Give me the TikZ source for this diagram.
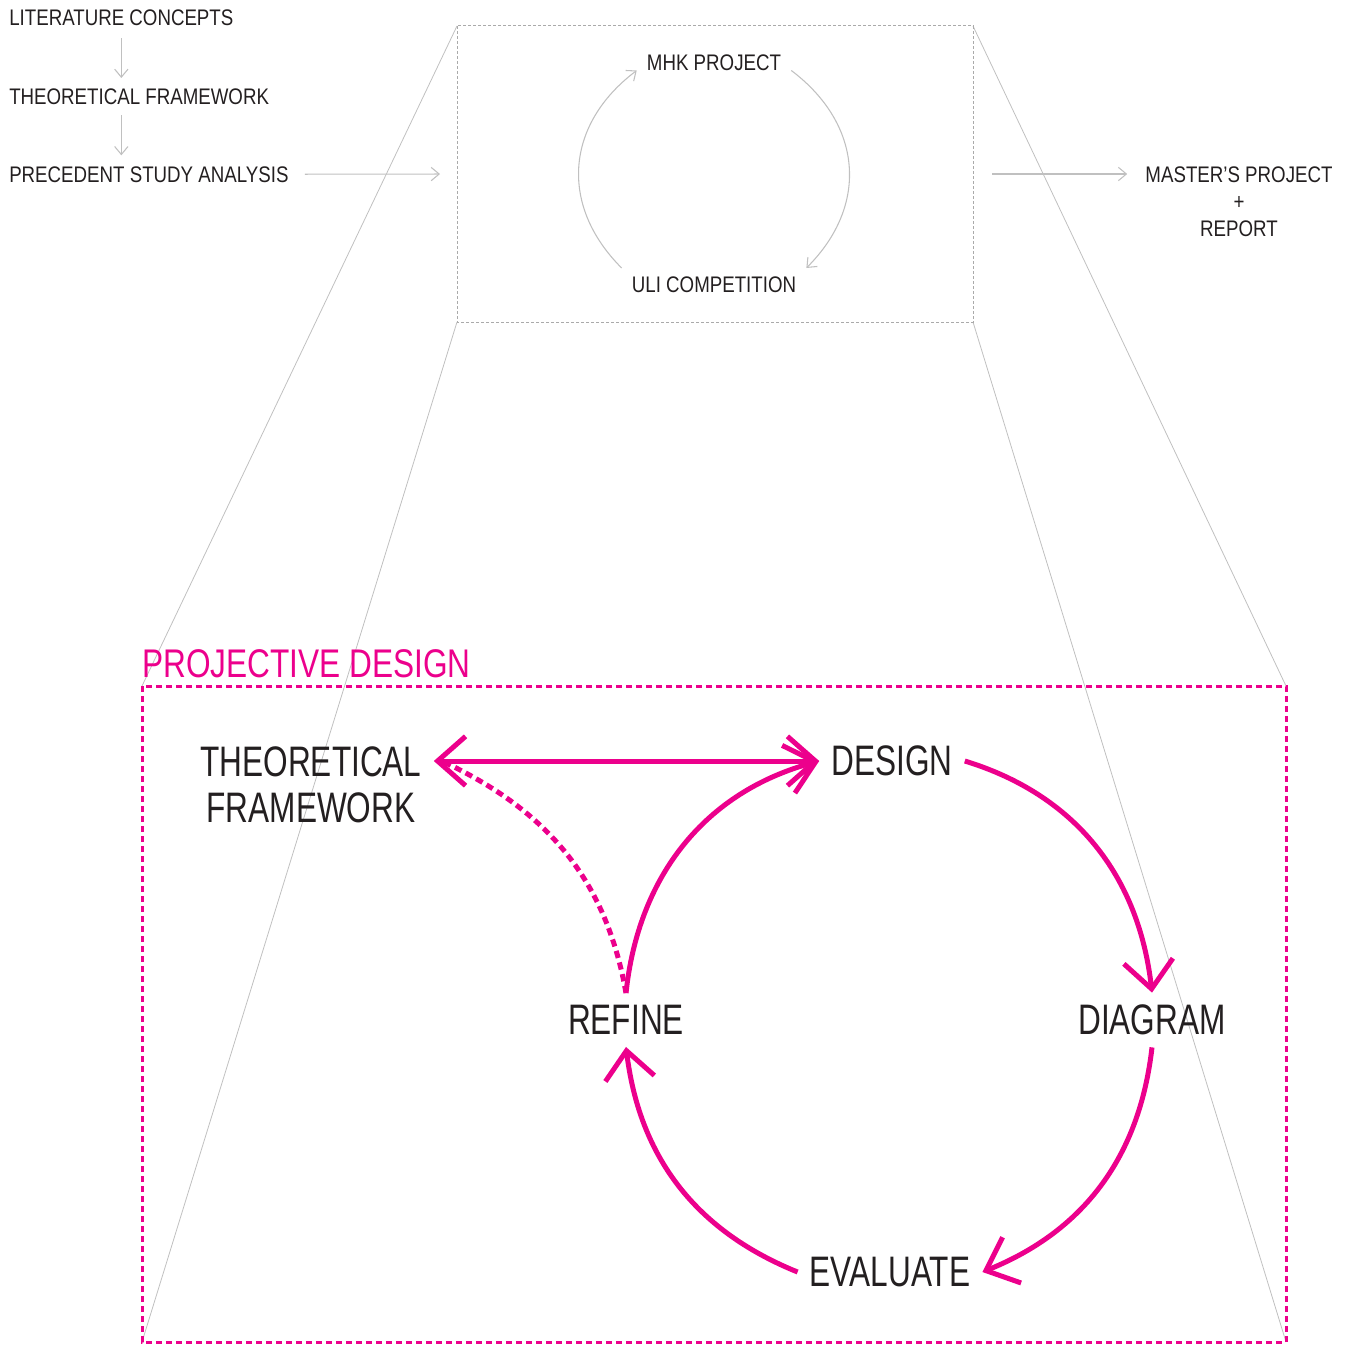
\documentclass[tikz,border=0pt]{standalone}
\usepackage{fontspec}
\setmainfont{Liberation Sans}
\newfontfamily\condsmall[FakeStretch=0.83]{Liberation Sans}
\newfontfamily\condbig[FakeStretch=0.74]{Liberation Sans}
\newfontfamily\condtitle[FakeStretch=0.79]{Liberation Sans}
\usetikzlibrary{arrows.meta}
\definecolor{pinkmag}{RGB}{236,0,140}
\definecolor{inkgray}{RGB}{35,31,32}
\definecolor{linegray}{RGB}{192,192,192}
\definecolor{boxgray}{RGB}{170,170,170}
\begin{document}
\begin{tikzpicture}[x=0.75pt,y=0.75pt,yscale=-1,
  smalltxt/.style={inner sep=0pt,text=inkgray,font=\condsmall\fontsize{16.9pt}{20.25pt}\selectfont},
  bigtxt/.style={inner sep=9pt,text=inkgray,font=\condbig\fontsize{32pt}{34.5pt}\selectfont,align=center},
  grayarrow/.style={draw=linegray,line width=0.8pt,-{Straight Barb[length=6pt,width=10pt]}},
  pinkarrow/.style={draw=pinkmag,line width=3.75pt,-{Straight Barb[length=21pt,width=37pt]}},
  pinkboth/.style={draw=pinkmag,line width=3.75pt,{Straight Barb[length=21pt,width=37pt]}-{Straight Barb[length=21pt,width=37pt]}},
  pinkdots/.style={draw=pinkmag,line width=3.75pt,dash pattern=on 5.5pt off 3.5pt},
  zoomline/.style={draw=linegray,line width=0.6pt}]
\useasboundingbox (0,0) rectangle (1353,1345);

%Corners of the two frames
\coordinate (sbnw) at (457,26);
\coordinate (sbne) at (973,26);
\coordinate (sbsw) at (457,322);
\coordinate (sbse) at (973,322);
\coordinate (sbw) at (457,174);
\coordinate (sbe) at (973,174);
\coordinate (pbnw) at (142,686);
\coordinate (pbne) at (1286,686);
\coordinate (pbsw) at (142,1342);
\coordinate (pbse) at (1286,1342);

%Straight Lines: zoom lines
\draw [zoomline] (sbnw) -- (pbnw) ;
\draw [zoomline] (sbsw) -- (pbsw) ;
\draw [zoomline] (sbne) -- (pbne) ;
\draw [zoomline] (sbse) -- (pbse) ;

%Shape: Rectangle, small frame
\draw [draw=boxgray,line width=0.75pt,dash pattern=on 2.25pt off 1.5pt] (sbnw) rectangle (sbse) ;
%Shape: Rectangle, pink frame
\draw [draw=pinkmag,line width=2.25pt,dash pattern=on 4.5pt off 3pt] (pbnw) rectangle (pbse) ;

% Text Node
\node [smalltxt,anchor=base west] (lit) at (9,26) {LITERATURE CONCEPTS};
% Text Node
\node [smalltxt,anchor=base west] (tf) at (9,104) {THEORETICAL FRAMEWORK};
% Text Node
\node [smalltxt,anchor=base west] (psa) at (9,182) {PRECEDENT STUDY ANALYSIS};
% Text Node
\node [smalltxt,inner xsep=7.5pt,anchor=base] (mhk) at (714,70) {MHK PROJECT};
% Text Node
\node [smalltxt,inner xsep=7.5pt,inner ysep=6pt,anchor=base] (uli) at (714,292) {ULI COMPETITION};
% Text Node
\node [smalltxt,align=center,anchor=north] (mp) at (1239,166) {MASTER’S PROJECT\\+\\REPORT};
% Text Node
\node [inner sep=0pt,anchor=base west,text=pinkmag,font=\condtitle\fontsize{30pt}{32pt}\selectfont] (pdt) at (142,677) {PROJECTIVE DESIGN};

% Text Node
\node [bigtxt] (theo) at (311,784.5) {THEORETICAL\\FRAMEWORK};
% Text Node
\node [bigtxt] (design) at (892,761) {DESIGN};
% Text Node
\node [bigtxt] (diagram) at (1152,1020) {DIAGRAM};
% Text Node
\node [bigtxt] (evaluate) at (890,1272) {EVALUATE};
% Text Node
\node [bigtxt] (refine) at (626,1020) {REFINE};

%Straight Lines: gray arrows
\draw [grayarrow,shorten <=9pt,shorten >=7.5pt] (lit.south) -- (lit.south |- tf.north) ;
\draw [grayarrow,shorten <=8pt,shorten >=8pt] (lit.south |- tf.south) -- (lit.south |- psa.north) ;
\draw [grayarrow,shorten <=12pt,shorten >=12.75pt] (psa.east) -- (sbw) ;
\draw [grayarrow,shorten <=14.25pt,shorten >=13.5pt] (sbe) -- (mp.west |- sbe) ;

%Shape: Arc, small cycle
\draw [grayarrow] (uli.north west) to[out=-135,in=143,looseness=1.15] (mhk.south west) ;
\draw [grayarrow] (mhk.south east) to[out=37,in=-45,looseness=1.15] (uli.north east) ;

%Straight Lines: theory and design
\draw [pinkboth] (theo.east |- design.west) -- (design.west) ;
%Shape: Arc, dotted return
\draw [pinkdots] (refine.north) to[out=-100,in=25] ([xshift=6pt]theo.east |- design.west) ;

%Shape: Arc, projective cycle
\draw [pinkarrow] (design.east) to[out=17,in=-96.5] (diagram.north) ;
\draw [pinkarrow] (diagram.south) to[out=96.5,in=-22] (evaluate.east) ;
\draw [pinkarrow] (evaluate.west) to[out=-158,in=83] (refine.south) ;
\draw [pinkarrow] (refine.north) to[out=-84,in=165] (design.west) ;

\end{tikzpicture}
\end{document}
